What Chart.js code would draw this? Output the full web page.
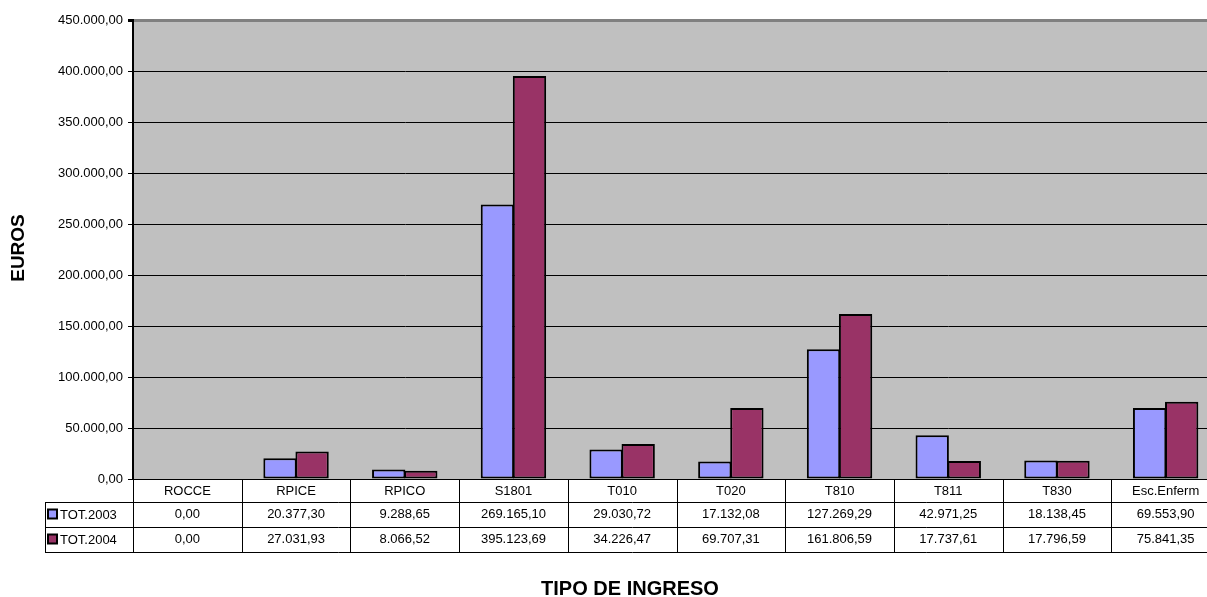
<!DOCTYPE html>
<html>
<head>
<meta charset="utf-8">
<script src="https://cdn.jsdelivr.net/npm/chart.js@4/dist/chart.umd.min.js"></script>
<style>
  html, body { margin: 0; padding: 0; background: #fff; overflow: hidden; }
  /* the plot in the original runs a little past the right edge of the picture */
  #wrap { width: 1220px; height: 597px; position: relative; }
</style>
</head>
<body>
<div id="wrap"><canvas id="chart"></canvas></div>
<script>
// categories and series straight from the data table
const categories = ['ROCCE', 'RPICE', 'RPICO', 'S1801', 'T010', 'T020', 'T810', 'T811', 'T830', 'Esc.Enferm'];
const tot2003 = [0, 20377.30, 9288.65, 269165.10, 29030.72, 17132.08, 127269.29, 42971.25, 18138.45, 69553.90];
const tot2004 = [0, 27031.93, 8066.52, 395123.69, 34226.47, 69707.31, 161806.59, 17737.61, 17796.59, 75841.35];
const seriesNames = ['TOT.2003', 'TOT.2004'];
const seriesColors = ['#9999FF', '#993366'];

const FONT = '"Liberation Sans", Arial, sans-serif';

// spanish style number: 1.234,56
function fmt(v) {
    const parts = v.toFixed(2).split('.');
    const intPart = parts[0].replace(/\B(?=(\d{3})+(?!\d))/g, '.');
    return intPart + ',' + parts[1];
}

const backgroundPlugin = {
    id: 'plotBg',
    beforeDraw(chart) {
        const { ctx, chartArea: a } = chart;
        ctx.save();
        ctx.fillStyle = '#fff';
        ctx.fillRect(0, 0, chart.width, chart.height);
        ctx.fillStyle = '#C0C0C0';
        ctx.fillRect(a.left, a.top, a.right - a.left, a.bottom - a.top);
        ctx.restore();
    }
};

// draws the data table under the plot plus the two axis titles
const tablePlugin = {
    id: 'dataTable',
    afterDraw(chart) {
        const { ctx, chartArea: a } = chart;
        const x = chart.scales.x;
        const n = categories.length;
        const colW = (a.right - a.left) / n;
        const headH = 23;
        const rowH = 25;
        const top = a.bottom;
        const bottom = top + headH + rowH * 2;
        const legendLeft = 45;
        const rows = [tot2003, tot2004];

        ctx.save();
        ctx.strokeStyle = '#000';
        ctx.lineWidth = 1;

        // horizontal lines
        ctx.beginPath();
        ctx.moveTo(a.left, top + 0.5); ctx.lineTo(a.right, top + 0.5);
        for (let r = 0; r <= 2; r++) {
            const yy = Math.round(top + headH + rowH * r) + 0.5;
            ctx.moveTo(legendLeft, yy); ctx.lineTo(a.right, yy);
        }
        // vertical lines
        for (let i = 0; i <= n; i++) {
            const xx = Math.round(a.left + colW * i) + 0.5;
            ctx.moveTo(xx, top); ctx.lineTo(xx, bottom);
        }
        ctx.moveTo(legendLeft + 0.5, top + headH); ctx.lineTo(legendLeft + 0.5, bottom);
        ctx.stroke();

        ctx.fillStyle = '#000';
        ctx.font = '13px ' + FONT;
        ctx.textAlign = 'center';
        ctx.textBaseline = 'middle';
        categories.forEach((c, i) => {
            const cx = x.getPixelForValue(i);
            ctx.fillText(c, cx, top + headH / 2 + 1);
            rows.forEach((vals, r) => {
                ctx.fillText(fmt(vals[i]), cx, top + headH + rowH * r + rowH / 2);
            });
        });

        // legend keys in the first column
        rows.forEach((vals, r) => {
            const cy = top + headH + rowH * r + rowH / 2;
            ctx.fillStyle = seriesColors[r];
            ctx.fillRect(48, cy - 5, 9, 9);
            ctx.strokeStyle = '#000';
            ctx.lineWidth = 2;
            ctx.strokeRect(48, cy - 5, 9, 9);
            ctx.fillStyle = '#000';
            ctx.textAlign = 'left';
            ctx.fillText(seriesNames[r], 60, cy + 1);
        });

        // axis titles
        ctx.font = 'bold 20px ' + FONT;
        ctx.textAlign = 'center';
        ctx.fillText('TIPO DE INGRESO', 630, 589);
        ctx.font = 'bold 19px ' + FONT;
        ctx.translate(19, 248);
        ctx.rotate(-Math.PI / 2);
        ctx.fillText('EUROS', 0, 0);
        ctx.restore();
    }
};

new Chart(document.getElementById('chart'), {
    type: 'bar',
    data: {
        labels: categories,
        datasets: [
            { label: seriesNames[0], data: tot2003, backgroundColor: seriesColors[0] },
            { label: seriesNames[1], data: tot2004, backgroundColor: seriesColors[1] }
        ].map(d => Object.assign(d, {
            borderColor: '#000',
            borderWidth: 2,
            borderSkipped: false,
            categoryPercentage: 0.59,
            barPercentage: 1.04 // slight overlap so the two bars share one border
        }))
    },
    options: {
        responsive: true,
        maintainAspectRatio: false,
        animation: false,
        layout: { padding: { top: 20, right: 0, left: 0, bottom: 0 } },
        plugins: {
            legend: { display: false },
            tooltip: { enabled: false }
        },
        scales: {
            x: {
                grid: { display: false },
                border: { display: true, color: '#000', width: 1 },
                ticks: { display: false },
                afterFit(scale) { scale.height = 118; }
            },
            y: {
                min: 0,
                max: 450000,
                ticks: {
                    stepSize: 50000,
                    color: '#000',
                    padding: 5,
                    font: { family: FONT, size: 13 },
                    callback: v => fmt(v)
                },
                grid: {
                    color: ctx => (ctx.tick && ctx.tick.value === 450000 ? '#808080' : '#000'),
                    lineWidth: ctx => (ctx.tick && ctx.tick.value === 450000 ? 3 : 1),
                    tickColor: '#000',
                    tickLength: 5
                },
                border: { color: '#000', width: 2 },
                afterFit(scale) { scale.width = 133; }
            }
        }
    },
    plugins: [backgroundPlugin, tablePlugin]
});
</script>
</body>
</html>
